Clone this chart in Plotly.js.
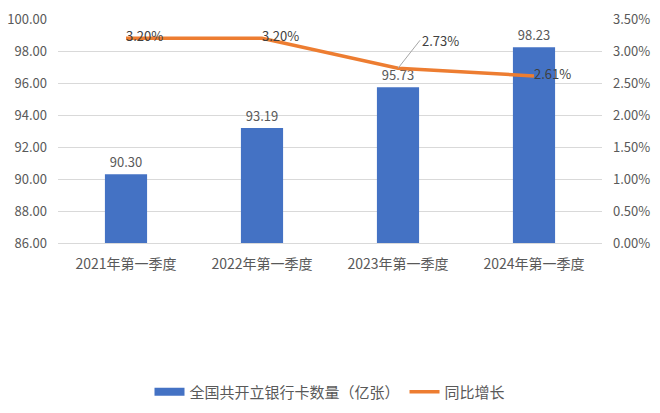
<!DOCTYPE html>
<html>
<head>
<meta charset="utf-8">
<script src="https://cdn.plot.ly/plotly-3.0.1.min.js"></script>
<style>
  body { margin: 0; background: #fff; }
  #chart { width: 660px; height: 413px; }
</style>
</head>
<body>
<div id="chart"></div>
<script>
// quarterly data
const quarters = ['2021年第一季度', '2022年第一季度', '2023年第一季度', '2024年第一季度'];
const cardCount = [90.30, 93.19, 95.73, 98.23];   // 亿张
const yoyGrowth = [0.0320, 0.0320, 0.0273, 0.0261];
const yoyLabels = ['3.20%', '3.20%', '', '2.61%'];
const AXIS_MIN = 86, AXIS_MAX = 100;

const FONT = '"Noto Sans CJK SC", "Noto Sans", sans-serif';
const GREY = '#595959';
const BLUE = '#4472C4';
const ORANGE = '#ED7D31';

const bars = {
    x: quarters,
    y: cardCount,
    type: 'bar',
    name: '全国共开立银行卡数量（亿张）',
    marker: {color: BLUE},
    text: cardCount.map(v => v.toFixed(2)),
    textposition: 'outside',
    textfont: {size: 13, color: GREY},
    cliponaxis: true,
    showlegend: false,
    hoverinfo: 'skip'
};

// empty trace only so the legend gets a wide flat swatch like excel
const barKey = {
    x: [null],
    y: [null],
    type: 'scatter',
    mode: 'lines',
    name: bars.name,
    line: {color: BLUE, width: 8},
    hoverinfo: 'skip'
};

const growth = {
    x: quarters,
    y: yoyGrowth,
    yaxis: 'y2',
    type: 'scatter',
    mode: 'lines+text',
    name: '同比增长',
    line: {color: ORANGE, width: 3.5},
    text: yoyLabels,
    textposition: 'middle right',
    textfont: {size: 13, color: '#404040'},
    cliponaxis: false,
    hoverinfo: 'skip'
};

const layout = {
    width: 660,
    height: 413,
    margin: {l: 58, r: 58, t: 19, b: 170, autoexpand: false},
    paper_bgcolor: '#fff',
    plot_bgcolor: '#fff',
    font: {family: FONT, color: GREY, size: 12},
    bargap: 0.69,
    showlegend: true,
    legend: {
        orientation: 'h',
        x: 0.5, xanchor: 'center',
        y: -0.665, yanchor: 'middle',
        font: {size: 15, color: GREY},
        traceorder: 'normal'
    },
    xaxis: {
        type: 'category',
        showline: true,
        linecolor: '#D9D9D9',
        ticks: '',
        ticklabelstandoff: 8,
        tickfont: {size: 14, color: GREY},
        fixedrange: true
    },
    yaxis: {
        range: [AXIS_MIN, AXIS_MAX],
        dtick: 2,
        tickformat: '.2f',
        gridcolor: '#D9D9D9',
        zeroline: false,
        ticks: '',
        ticklabelstandoff: 10,
        tickfont: {size: 13, color: GREY}
    },
    yaxis2: {
        overlaying: 'y',
        side: 'right',
        range: [0, 0.035],
        dtick: 0.005,
        tickformat: '.2%',
        showgrid: false,
        zeroline: false,
        ticks: '',
        ticklabelstandoff: 10,
        tickfont: {size: 13, color: GREY}
    },
    annotations: [{
        x: quarters[2],
        y: yoyGrowth[2],
        xref: 'x',
        yref: 'y2',
        text: (yoyGrowth[2] * 100).toFixed(2) + '%',
        showarrow: true,
        arrowhead: 0,
        arrowwidth: 1,
        arrowcolor: '#A6A6A6',
        ax: 22,
        ay: -28,
        xanchor: 'left',
        font: {family: FONT, size: 13, color: '#404040'}
    }]
};

Plotly.newPlot('chart', [bars, barKey, growth], layout, {displayModeBar: false, staticPlot: true});
</script>
</body>
</html>
